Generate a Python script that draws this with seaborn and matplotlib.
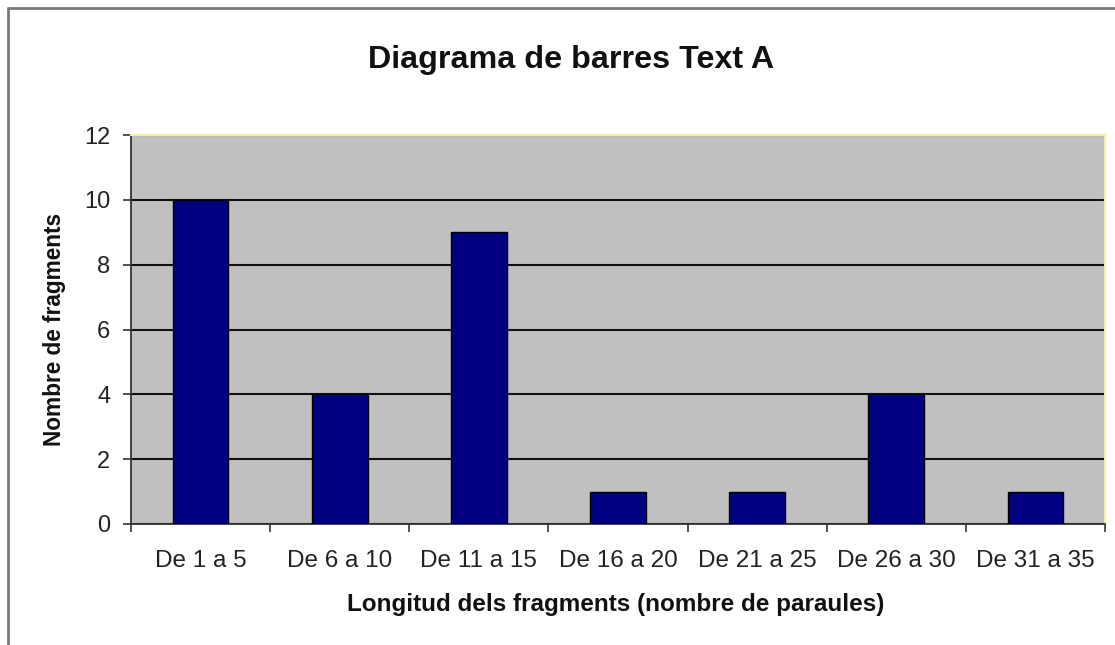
import matplotlib
matplotlib.use("Agg")
import matplotlib.pyplot as plt
import seaborn as sns
import pandas as pd
import numpy as np
from matplotlib.lines import Line2D

categories = ["De 1 a 5", "De 6 a 10", "De 11 a 15", "De 16 a 20",
              "De 21 a 25", "De 26 a 30", "De 31 a 35"]
values = [10, 4, 9, 1, 1, 4, 1]
y_ticks = [0, 2, 4, 6, 8, 10, 12]

sns.set_theme(style="white")
plt.rcParams['font.family'] = ['Liberation Sans', 'DejaVu Sans']

W, H = 1115, 645
fig = plt.figure(figsize=(W / 100, H / 100), dpi=100)
fig.patch.set_facecolor("white")

left, right, top, bottom = 131, 1105, 135, 524
ax = fig.add_axes([left / W, 1 - bottom / H, (right - left) / W, (bottom - top) / H])

df = pd.DataFrame({"cat": categories, "val": values})
sns.barplot(data=df, x="cat", y="val", color="#000080", width=0.4,
            edgecolor="black", linewidth=1.0, saturation=1, ax=ax, zorder=3)

ax.set_facecolor("#C0C0C0")
ax.set_ylim(0, 12)
ax.set_xlim(-0.5, len(categories) - 0.5)
ax.set_yticks(y_ticks)
ax.set_yticklabels([str(t) for t in y_ticks], fontsize=17, color="#222222")
ax.yaxis.grid(True, color="#111111", linewidth=1.5, zorder=1)
ax.set_axisbelow(True)

# x ticks at category boundaries, labels at centres
ax.set_xticks(np.arange(-0.5, len(categories)), minor=False)
ax.set_xticklabels([""] * (len(categories) + 1))
ax.set_xticks(np.arange(len(categories)), minor=True)
ax.set_xticklabels(categories, minor=True, fontsize=17.5, color="#222222")
ax.tick_params(axis="x", which="major", direction="out", length=5.5, width=1.2,
               color="#333333", bottom=True)
ax.tick_params(axis="x", which="minor", length=0, pad=19)
ax.tick_params(axis="y", direction="out", length=6, width=1.2, color="#333333",
               left=True, pad=9)

for s in ["left", "bottom"]:
    ax.spines[s].set_color("#333333")
    ax.spines[s].set_linewidth(1.3)
for s in ["top", "right"]:
    ax.spines[s].set_color("#F4F0A0")
    ax.spines[s].set_linewidth(1.5)

ax.set_xlabel("Longitud dels fragments (nombre de paraules)", fontsize=17.5,
              fontweight="bold", color="#111111")
ax.xaxis.set_label_coords(0.498, -0.177)
ax.set_ylabel("Nombre de fragments", fontsize=16.3, fontweight="bold",
              color="#111111")
ax.yaxis.set_label_coords(-0.067, 0.499)

fig.text(571 / W, 1 - 68 / H, "Diagrama de barres Text A", fontsize=23.2,
         fontweight="bold", ha="center", va="baseline", color="#111111")

# outer frame (partially visible)
fig.add_artist(Line2D([8 / W, 8 / W], [1 - 8 / H, 0], color="#7a7a7a",
                      linewidth=2, transform=fig.transFigure))
fig.add_artist(Line2D([8 / W, 1], [1 - 8 / H, 1 - 8 / H], color="#7a7a7a",
                      linewidth=2, transform=fig.transFigure))

fig.savefig("out.png", dpi=100, facecolor="white")
